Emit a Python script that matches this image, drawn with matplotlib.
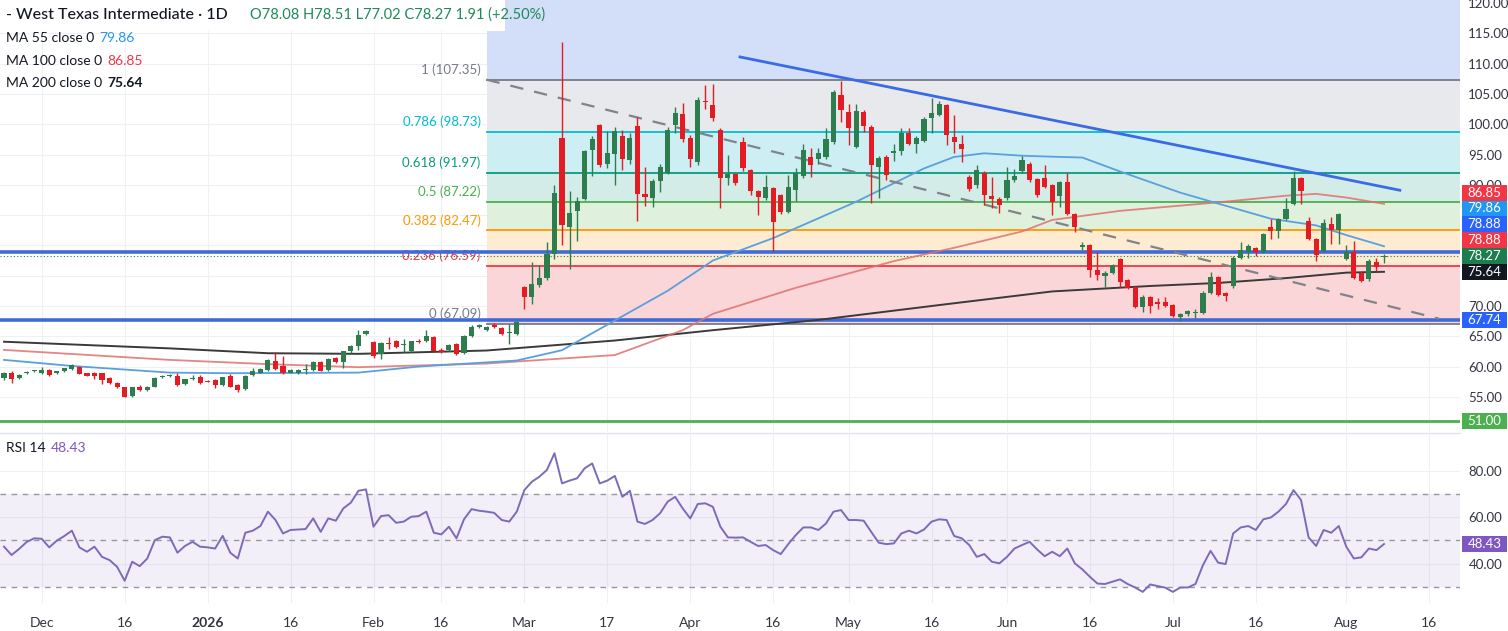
import numpy as np
import matplotlib
matplotlib.use('Agg')
import matplotlib.pyplot as plt
from matplotlib.lines import Line2D
from matplotlib.patches import Rectangle

plt.rcParams['font.family'] = ['Lato', 'DejaVu Sans']

# ---------------- data ----------------
opens = [58.07, 59.0, 58.07, 58.9, 59.2, 58.9, 59.45, 58.9, 59.2, 59.6,
         60.0, 58.9, 58.9, 58.9, 58.1, 57.25, 56.6, 55.2, 56.7, 56.05,
         56.7, 58.2, 58.5, 58.5, 57.1, 58.0, 58.2, 57.6, 57.7, 56.95,
         58.5, 57.0, 56.25, 58.6, 59.0, 59.45, 61.0, 60.1, 59.0, 58.9,
         59.5, 59.45, 60.8, 59.45, 61.4, 60.8, 62.5, 63.4, 65.4, 64.0,
         62.1, 63.9, 64.2, 63.5, 62.6, 64.3, 64.2, 64.85, 62.8, 62.8,
         63.7, 62.2, 65.1, 66.6, 66.1, 66.8, 66.3, 65.5, 65.4, 73.1,
         71.4, 73.5, 74.6, 78.5, 97.7, 83.1, 85.7, 87.7, 95.8, 99.9,
         93.4, 95.1, 98.1, 94.1, 99.7, 88.4, 87.9, 90.6, 92.0, 99.9,
         101.7, 97.7, 93.7, 103.9, 103.1, 99.1, 91.2, 91.8, 97.0, 92.4,
         88.9, 87.8, 89.4, 88.3, 85.5, 89.2, 91.4, 94.6, 94.2, 94.6,
         97.1, 104.9, 102.0, 96.3, 102.0, 99.5, 93.0, 94.6, 95.3, 95.5,
         98.6, 96.8, 97.3, 101.0, 101.6, 103.1, 97.9, 96.7, 91.3, 89.9,
         91.9, 88.1, 87.7, 87.8, 90.8, 92.3, 93.5, 91.0, 91.2, 89.9,
         88.2, 90.5, 85.2, 79.8, 80.0, 75.9, 75.0, 75.5, 77.8, 74.3,
         73.1, 69.9, 71.5, 70.6, 70.6, 70.1, 68.2, 68.6, 68.9, 68.8,
         72.2, 74.7, 72.1, 73.3, 78.0, 78.9, 79.6, 78.9, 83.1, 82.4,
         84.4, 86.8, 91.1, 84.0, 81.1, 79.1, 83.5, 82.6, 77.8, 78.9,
         75.5, 74.4, 77.3, 78.08]
highs = [59.1, 59.2, 58.7, 59.2, 59.5, 59.9, 59.6, 59.3, 59.8, 60.4,
         60.1, 59.0, 59.1, 59.0, 58.2, 57.4, 56.7, 56.7, 56.9, 56.8,
         58.2, 58.6, 58.7, 58.9, 58.0, 58.6, 58.6, 57.7, 57.9, 58.3,
         58.7, 57.1, 58.6, 59.7, 59.8, 61.3, 62.4, 61.8, 59.6, 59.6,
         60.4, 60.9, 61.0, 61.4, 61.6, 62.6, 63.6, 66.0, 66.0, 64.3,
         64.1, 64.9, 64.4, 64.6, 64.3, 64.5, 66.0, 65.0, 63.0, 63.8,
         63.9, 65.2, 66.8, 67.0, 66.7, 67.2, 66.5, 67.0, 67.5, 73.3,
         77.2, 76.7, 80.5, 90.0, 113.5, 89.0, 88.0, 95.8, 98.0, 100.0,
         98.9, 99.5, 99.0, 98.5, 101.2, 92.9, 91.0, 93.5, 99.5, 102.8,
         103.5, 98.3, 104.5, 106.4, 106.7, 99.3, 95.0, 92.0, 97.9, 92.6,
         89.2, 91.6, 89.6, 88.5, 91.6, 92.7, 96.8, 96.0, 96.0, 99.3,
         105.6, 107.2, 103.3, 103.4, 102.3, 99.8, 94.8, 95.0, 96.8, 99.3,
         99.3, 98.0, 101.2, 104.3, 103.8, 103.4, 101.5, 98.3, 91.6, 93.2,
         92.2, 91.3, 88.0, 93.0, 92.6, 94.8, 93.8, 91.2, 93.3, 90.2,
         90.6, 91.9, 85.4, 80.5, 80.2, 78.9, 75.8, 76.9, 78.0, 74.5,
         73.3, 71.8, 71.7, 71.3, 71.5, 70.3, 68.9, 69.4, 69.5, 72.4,
         75.6, 74.9, 72.3, 78.3, 80.5, 80.3, 79.8, 82.1, 84.4, 84.6,
         87.9, 92.3, 91.3, 84.7, 81.3, 84.4, 84.7, 85.4, 80.0, 80.8,
         75.7, 77.7, 77.9, 78.51]
lows = [57.8, 57.25, 57.9, 58.8, 59.1, 58.8, 58.5, 58.8, 59.1, 59.5,
        58.7, 58.4, 57.9, 57.1, 57.2, 56.4, 54.9, 55.0, 55.9, 55.95,
        56.6, 58.1, 58.3, 56.8, 57.0, 57.7, 57.2, 57.4, 56.4, 56.8,
        56.6, 55.8, 56.1, 58.4, 58.9, 59.3, 59.4, 58.8, 58.9, 58.8,
        58.8, 59.3, 59.2, 59.3, 60.6, 59.8, 62.3, 62.8, 65.2, 61.4,
        61.3, 62.9, 63.1, 62.4, 62.4, 63.9, 64.0, 62.5, 62.2, 62.6,
        61.9, 62.0, 64.9, 66.3, 65.9, 66.3, 65.2, 63.8, 65.2, 69.5,
        70.3, 73.2, 74.3, 77.8, 80.0, 76.1, 80.8, 87.5, 91.5, 93.0,
        92.8, 90.0, 92.5, 93.5, 84.1, 86.5, 86.4, 88.8, 91.8, 98.5,
        97.0, 93.0, 93.3, 102.5, 100.5, 86.1, 90.0, 89.9, 92.2, 88.3,
        85.0, 87.5, 79.0, 85.2, 85.3, 87.3, 91.2, 91.3, 93.5, 94.2,
        96.8, 100.4, 96.5, 96.0, 98.7, 87.0, 87.8, 90.8, 93.9, 95.0,
        96.5, 95.2, 97.0, 98.5, 101.3, 96.6, 95.2, 93.8, 89.0, 89.5,
        86.7, 86.2, 85.3, 87.5, 90.5, 92.0, 90.5, 88.0, 89.4, 85.0,
        86.3, 85.0, 82.2, 79.2, 74.8, 74.3, 73.1, 75.3, 73.2, 72.8,
        69.7, 69.0, 68.8, 69.5, 69.8, 68.1, 67.6, 68.4, 68.0, 68.6,
        72.0, 71.6, 70.9, 73.0, 77.8, 77.9, 78.2, 78.7, 81.1, 81.3,
        84.2, 86.6, 86.8, 80.9, 77.5, 78.9, 80.3, 80.3, 77.6, 74.4,
        73.9, 74.2, 75.7, 77.02]
closes = [58.9, 57.9, 58.6, 59.1, 59.45, 59.45, 58.6, 59.2, 59.7, 60.2,
          58.8, 58.5, 58.5, 57.8, 57.35, 56.6, 55.05, 56.6, 56.05, 56.7,
          58.1, 58.5, 58.55, 56.95, 57.9, 58.1, 57.35, 57.5, 56.95, 58.2,
          56.7, 56.1, 58.5, 59.2, 59.6, 61.1, 59.55, 58.9, 59.45, 59.45,
          59.55, 60.8, 59.3, 61.3, 60.8, 62.5, 63.4, 65.2, 65.8, 61.8,
          63.9, 63.7, 63.3, 63.6, 64.2, 64.0, 65.0, 62.65, 62.4, 63.6,
          62.1, 65.1, 66.6, 66.7, 66.5, 66.5, 65.4, 65.6, 67.3, 71.4,
          73.6, 74.6, 78.5, 88.6, 83.4, 85.3, 87.4, 95.5, 97.5, 93.3,
          95.3, 98.9, 94.2, 97.7, 88.5, 88.0, 90.7, 93.0, 99.1, 101.9,
          97.5, 94.2, 104.0, 103.6, 101.0, 91.1, 91.8, 90.25, 92.7, 89.0,
          88.0, 89.7, 83.8, 85.5, 89.7, 91.9, 95.7, 93.3, 95.2, 97.5,
          105.3, 102.3, 99.4, 102.1, 99.7, 93.3, 94.4, 91.6, 95.6, 98.6,
          96.8, 97.8, 100.8, 101.9, 103.4, 98.2, 97.1, 95.9, 89.3, 92.4,
          88.3, 87.7, 86.7, 90.8, 91.5, 94.1, 90.8, 88.3, 89.7, 87.2,
          90.4, 85.2, 83.0, 80.0, 75.9, 75.1, 75.5, 76.7, 74.0, 73.0,
          69.9, 71.5, 70.0, 70.4, 70.0, 68.3, 68.7, 69.1, 69.0, 72.2,
          74.7, 71.8, 71.6, 78.0, 79.3, 79.9, 78.9, 81.9, 82.4, 84.4,
          86.0, 91.2, 88.9, 81.1, 78.4, 83.7, 82.6, 85.2, 78.9, 74.6,
          74.2, 77.5, 76.4, 78.27]

rsi = [47.3, 43.7, 46.3, 49.3, 50.9, 50.7, 47.0, 49.9, 51.9, 54.2,
       47.0, 45.1, 47.3, 42.9, 41.5, 38.6, 32.6, 40.8, 38.9, 42.2,
       50.1, 51.6, 51.3, 44.7, 47.6, 49.4, 47.3, 47.0, 46.5, 52.0,
       44.7, 42.2, 53.3, 54.2, 56.2, 62.4, 58.8, 53.0, 54.5, 54.7,
       54.9, 59.5, 53.7, 59.5, 58.5, 63.8, 66.3, 71.4, 72.0, 55.9,
       60.5, 60.9, 57.6, 58.1, 60.2, 60.5, 62.4, 53.3, 52.6, 55.9,
       50.9, 59.1, 63.5, 62.8, 62.4, 61.9, 58.8, 58.1, 62.4, 71.7,
       75.3, 77.5, 80.4, 87.6, 74.6, 75.8, 76.8, 81.1, 83.2, 74.6,
       75.8, 77.8, 68.8, 71.4, 58.1, 57.1, 58.8, 61.7, 66.7, 68.8,
       63.8, 59.5, 65.7, 66.0, 64.5, 55.9, 51.3, 51.2, 51.3, 49.4,
       47.6, 48.0, 45.8, 44.1, 48.4, 52.3, 55.6, 55.6, 54.5, 57.3,
       62.4, 63.1, 58.8, 58.8, 58.5, 53.7, 49.0, 48.4, 48.7, 53.0,
       54.2, 53.0, 54.7, 58.1, 59.1, 58.8, 51.9, 50.9, 48.0, 42.9,
       44.1, 40.8, 40.1, 42.9, 46.5, 48.0, 49.4, 46.1, 43.2, 45.1,
       43.2, 46.5, 40.1, 37.5, 34.3, 31.4, 31.2, 32.2, 33.2, 31.2,
       29.7, 27.8, 31.0, 30.3, 29.6, 27.8, 29.7, 29.7, 31.2, 39.4,
       45.5, 40.4, 39.8, 53.0, 55.6, 56.2, 54.5, 59.1, 59.9, 62.4,
       65.7, 71.7, 67.4, 51.3, 47.6, 54.5, 53.3, 56.2, 47.3, 42.2,
       42.7, 46.5, 45.8, 48.43]

# moving averages, read as (bar, value) vertices
ma55_bars = [0, 9, 22, 30, 47, 55, 68, 74, 81, 88, 94, 102, 113, 122, 126, 130, 135, 140, 143, 148, 156, 161, 168, 174, 178, 183]
ma55_vals = [61.1, 60.1, 59.0, 58.9, 59.0, 60.0, 61.0, 62.7, 67.6, 72.5, 77.5, 81.2, 87.2, 92.7, 94.6, 95.2, 94.8, 94.6, 94.5, 92.2, 88.7, 86.9, 84.4, 83.3, 81.7, 79.86]
ma100_bars = [0, 22, 35, 47, 64, 81, 90, 94, 105, 118, 126, 135, 139, 148, 161, 170, 174, 178, 183]
ma100_vals = [62.75, 61.1, 60.4, 59.9, 60.5, 61.9, 66.0, 68.7, 73.0, 77.4, 79.6, 82.3, 84.2, 85.7, 87.1, 88.2, 88.5, 87.9, 86.85]
ma200_bars = [0, 22, 35, 47, 64, 81, 94, 108, 125, 139, 152, 161, 170, 178, 183]
ma200_vals = [64.1, 63.0, 62.2, 62.1, 62.65, 64.3, 66.0, 67.7, 70.3, 72.4, 73.3, 73.8, 74.6, 75.5, 75.64]

# Fibonacci retracement drawing
fib_ratios = ['1', '0.786', '0.618', '0.5', '0.382', '0.236', '0']
fib_levels = [107.35, 98.73, 91.97, 87.22, 82.47, 76.59, 67.09]
fib_line_colors = ['#787b86', '#00bcd4', '#089981', '#4caf50', '#ff9800', '#f23645', '#787b86']
fib_text_colors = ['#787b86', '#00bcd4', '#089981', '#4caf50', '#ff9800', '#f23645', '#787b86']
fib_fill_colors = ['#e8e9ec', '#cdeff4', '#d3ece7', '#dff0dd', '#fdecd2', '#fad6d8']
fib_start_bar = 64
top_fill_color = '#d3def9'

# trend lines (bar, price)
down_trend = [(97.6, 111.1), (185.1, 89.1)]
dash_trend = [(64.0, 107.35), (190.3, 67.9)]

# horizontal levels
blue_levels = [78.88, 67.74]
green_level = 51.00

x_tick_bars = [5, 16, 27, 38, 49, 58, 69, 80, 91, 102, 112, 123, 133, 144, 155, 166, 178, 189]
x_tick_labels = ['Dec', '16', '2026', '16', 'Feb', '16', 'Mar', '17', 'Apr', '16', 'May', '16',
                 'Jun', '16', 'Jul', '16', 'Aug', '16']

price_ticks = [55, 60, 65, 70, 90, 95, 100, 105, 110, 115, 120]
rsi_ticks = [40, 60, 80]

# right-side value boxes
box_vals = [86.85, 79.86, 78.88, 78.88, 78.27, 75.64, 67.74, 51.00]
box_colors = ['#f23645', '#2196f3', '#2962ff', '#f23645', '#1e7d4e', '#131722', '#2962ff', '#4caf50']

# ---------------- figure ----------------
W, H = 1508, 631
fig = plt.figure(figsize=(W / 100, H / 100), dpi=100)
fig.patch.set_facecolor('white')


def px_axes(l, t, r, b):
    return fig.add_axes([l / W, 1 - b / H, (r - l) / W, (b - t) / H])


ax = px_axes(0, 0, 1460, 432)
axr = px_axes(0, 434, 1460, 603)

n = len(closes)
xb = np.arange(n)
step = (1384 - 4) / (n - 1)
x0 = -4 / step
x1 = x0 + 1460 / step
for a in (ax, axr):
    a.set_xlim(x0, x1)
    a.set_facecolor('white')
    for s in a.spines.values():
        s.set_visible(False)
ax.set_ylim(49.2, 120.5)
axr.set_ylim(23.0, 95.9)

GREEN = '#2e7d4f'
RED = '#e31b23'
TXT = '#131722'
GRID = '#eef0f5'

# grid
for tb in x_tick_bars:
    ax.axvline(tb, color=GRID, lw=0.8, zorder=0.1)
    axr.axvline(tb, color=GRID, lw=0.8, zorder=0.1)
for pt in range(55, 125, 5):
    ax.axhline(pt, color=GRID, lw=0.8, zorder=0.1)
for rt in rsi_ticks:
    axr.axhline(rt, color=GRID, lw=0.8, zorder=0.1)

# fib fills
ax.fill_between([fib_start_bar, x1], fib_levels[0], 120.5, color=top_fill_color, lw=0, zorder=0.2)
for i in range(len(fib_fill_colors)):
    ax.fill_between([fib_start_bar, x1], fib_levels[i + 1], fib_levels[i],
                    color=fib_fill_colors[i], lw=0, zorder=0.2)
for r, lv, lc, tc in zip(fib_ratios, fib_levels, fib_line_colors, fib_text_colors):
    ax.plot([fib_start_bar, x1], [lv, lv], color=lc, lw=1.3, zorder=1)
    ax.text(fib_start_bar - 0.8, lv + 0.6, f'{r} ({lv:.2f})', color=tc, fontsize=9.5,
            ha='right', va='bottom', zorder=1.5)

# horizontal blue and green levels
for bl in blue_levels:
    ax.axhline(bl, color='#3f6ad8', lw=2.6, zorder=2)
ax.axhline(green_level, color='#4caf50', lw=2.0, zorder=2)
# last price dotted line
ax.axhline(closes[-1], color='#1e7d4e', lw=0.8, ls=(0, (1, 2)), zorder=2)

# moving averages
ax.plot(ma200_bars, ma200_vals, color='#3a3a3a', lw=1.4, zorder=3)
ax.plot(ma100_bars, ma100_vals, color='#e0706e', lw=1.3, alpha=0.85, zorder=3)
ax.plot(ma55_bars, ma55_vals, color='#5aa0dc', lw=1.3, zorder=3)

# trend lines
ax.plot([p[0] for p in dash_trend], [p[1] for p in dash_trend], color='#80838a', lw=1.6,
        ls=(0, (6, 5)), zorder=3)
ax.plot([p[0] for p in down_trend], [p[1] for p in down_trend], color='#3a6be6', lw=2.0, zorder=3)

# candles
o = np.array(opens); h = np.array(highs); l = np.array(lows); c = np.array(closes)
up = c >= o
cols = np.where(up, GREEN, RED)
ax.vlines(xb, l, h, colors=cols, lw=1.0, zorder=4)
body_lo = np.minimum(o, c)
body_h = np.maximum(np.abs(c - o), 0.18)
ax.bar(xb, body_h, bottom=body_lo, width=0.68, color=cols, lw=0, zorder=5)

# price axis ticks
ax.yaxis.tick_right()
ax.set_yticks(price_ticks)
ax.set_yticklabels([f'{v:.2f}' for v in price_ticks])
ax.tick_params(axis='y', length=0, pad=6, labelsize=9.5, labelcolor='#333640')
ax.set_xticks([])

# ---------------- RSI pane ----------------
axr.fill_between([x0, x1], 30, 70, color='#7e57c2', alpha=0.09, lw=0, zorder=0.2)
for lv in (70, 50, 30):
    axr.axhline(lv, color='#9598a1', lw=1.0, ls=(0, (4, 4)), zorder=1)
axr.plot(np.arange(len(rsi)), rsi, color='#7e6ab8', lw=1.4, zorder=3)
axr.yaxis.tick_right()
axr.set_yticks(rsi_ticks)
axr.set_yticklabels([f'{v:.2f}' for v in rsi_ticks])
axr.tick_params(axis='y', length=0, pad=6, labelsize=9.5, labelcolor='#333640')
axr.set_xticks(x_tick_bars)
axr.set_xticklabels(x_tick_labels)
axr.tick_params(axis='x', length=0, pad=10, labelsize=10, labelcolor='#333640')
for lbl in axr.get_xticklabels():
    if lbl.get_text() == '2026':
        lbl.set_fontweight('bold')

# ---------------- value boxes (stacked like the price scale) ----------------
fig.canvas.draw()
BOX_H = 15.8
nat = [ax.transData.transform((0, v))[1] for v in box_vals]
anchor = 4
pos = list(nat)
for k in range(anchor - 1, -1, -1):
    pos[k] = max(nat[k], pos[k + 1] + BOX_H)
for k in range(anchor + 1, len(box_vals)):
    pos[k] = min(nat[k], pos[k - 1] - BOX_H)


def value_box(py, txt, col):
    fig.patches.append(Rectangle((1462 / W, (py - BOX_H / 2) / H), 45 / W, BOX_H / H,
                                 transform=fig.transFigure, fc=col, ec='none', zorder=6))
    fig.text(1484.5 / W, py / H, txt, color='white', fontsize=9.5, ha='center', va='center',
             zorder=21)


for v, col, py in zip(box_vals, box_colors, pos):
    value_box(py, f'{v:.2f}', col)
value_box(axr.transData.transform((0, rsi[-1]))[1], f'{rsi[-1]:.2f}', '#7e57c2')

# pane separator
fig.add_artist(Line2D([0, 1460 / W], [1 - 433 / H, 1 - 433 / H], color='#e0e3eb', lw=1.0))

# ---------------- legend texts ----------------
fig.patches.append(Rectangle((0, 1 - 31 / H), 505 / W, 31 / H, transform=fig.transFigure,
                             fc='white', ec='none', zorder=5))
renderer = fig.canvas.get_renderer()


def ftext(xp, yp, s, **kw):
    t = fig.text(xp / W, 1 - yp / H, s, va='center', ha='left', zorder=20, **kw)
    return t


def legend_row(yp, label, value, vcolor, **vkw):
    t = ftext(6, yp, label, fontsize=10, color=TXT)
    bb = t.get_window_extent(renderer=renderer)
    ftext(bb.x1 + 5, yp, value, fontsize=10, color=vcolor, **vkw)


ftext(6, 15, '- West Texas Intermediate · 1D', fontsize=11.5, color=TXT, fontweight='medium')
ftext(250, 15, 'O78.08 H78.51 L77.02 C78.27 1.91 (+2.50%)', fontsize=10.5, color='#1e8a5a')
legend_row(38, 'MA 55 close 0', '79.86', '#2196f3')
legend_row(61, 'MA 100 close 0', '86.85', '#f23645')
legend_row(83, 'MA 200 close 0', '75.64', TXT, fontweight='bold')
legend_row(448, 'RSI 14', '48.43', '#7e57c2')

fig.savefig('out.png', dpi=100, facecolor='white')
